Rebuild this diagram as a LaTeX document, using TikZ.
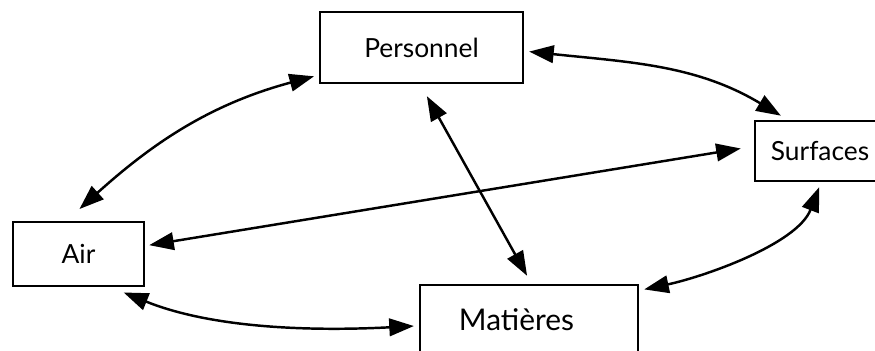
\documentclass[tikz,border=0pt]{standalone}
\usepackage{fontspec}
\setmainfont{Lato}
\usetikzlibrary{arrows.meta}

\begin{document}
\begin{tikzpicture}[x=0.02cm, y=-0.02cm,
  box/.style={draw, line width=1.4pt, inner sep=0pt, font=\fontsize{15}{17}\selectfont},
  link/.style={{Triangle[length=14pt,width=10pt]}-{Triangle[length=14pt,width=10pt]}, line width=1.4pt}
]
\useasboundingbox (0,0) rectangle (875,351);

\node[box, minimum width=4.06cm, minimum height=1.42cm] (pers) at (421.5,47.5) {Personnel};
\node[box, minimum width=2.6cm,  minimum height=1.2cm]  (surf) at (820,151)    {Surfaces};
\node[box, minimum width=2.62cm, minimum height=1.28cm] (air)  at (78.5,254)   {Air};
\node[box, minimum width=4.36cm, minimum height=1.4cm, font=\fontsize{17}{19}\selectfont]
  (mat) at (529,320) {Matières\rule{0.5cm}{0pt}};

% cycle round the outside
\draw[link, shorten <=10pt, shorten >=2.8pt] (air.110) to[out=42, in=195] (pers.195.5);
\draw[link, shorten <=2.8pt, shorten >=4.5pt] (pers.-2) to[out=-6, in=149] (surf.136);
\draw[link, shorten <=3pt, shorten >=2.9pt, looseness=0.8] (surf.272) to[out=249, in=12] (mat.15.4);
\draw[link, shorten <=8pt, shorten >=2.8pt, looseness=0.9] (air.314.5) to[out=-22, in=183] (mat.183.5);

% diagonals
\draw[link, shorten <=7.8pt, shorten >=5.2pt] (pers.268) -- (mat.86);
\draw[link, shorten <=7.5pt, shorten >=2.3pt] (surf.176.4) -- (air.7.3);
\end{tikzpicture}
\end{document}
